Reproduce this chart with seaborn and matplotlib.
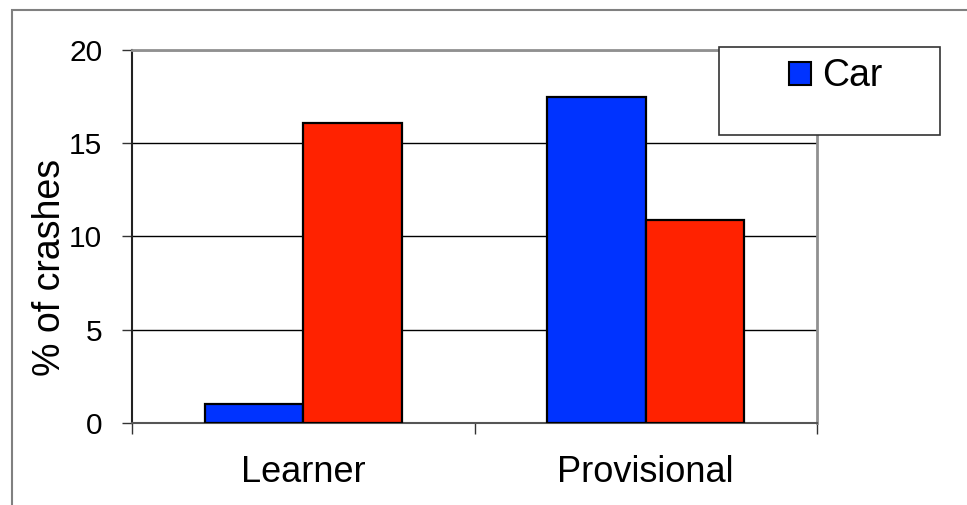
import matplotlib
matplotlib.use("Agg")
import matplotlib.pyplot as plt
from matplotlib.patches import Rectangle, Patch
import seaborn as sns
import pandas as pd

# Share of crashes by licence stage
stages = ["Learner", "Provisional"]
series = ["Car", "Motorcycle"]
car_pct = [1.0, 17.5]
motorcycle_pct = [16.1, 10.9]
y_ticks = [0, 5, 10, 15, 20]

colors = {"Car": "#0033FF", "Motorcycle": "#FF2200"}

df = pd.DataFrame({
    "stage": stages * 2,
    "series": [series[0]] * len(stages) + [series[1]] * len(stages),
    "pct": car_pct + motorcycle_pct,
})

sns.set_theme(style="white")
plt.rcParams["font.family"] = ["Liberation Sans", "DejaVu Sans"]
plt.rcParams["text.color"] = "black"
plt.rcParams["axes.labelcolor"] = "black"
plt.rcParams["xtick.color"] = "black"
plt.rcParams["ytick.color"] = "black"

W, H = 967, 505
fig = plt.figure(figsize=(W / 100, H / 100), dpi=100)
fig.patch.set_facecolor("white")

# outer slide frame
fig.patches.append(Rectangle((12 / W, -0.2), 1.2, 1.2 - 10 / H,
                             transform=fig.transFigure, fill=False,
                             edgecolor="#808080", linewidth=1.5, zorder=0))

ax = fig.add_axes([132 / W, 1 - 423 / H, (817 - 132) / W, (423 - 50) / H])

sns.barplot(data=df, x="stage", y="pct", hue="series", order=stages,
            hue_order=series, palette=colors, width=0.575, gap=0,
            edgecolor="black", linewidth=1.6, saturation=1, ax=ax,
            legend=False, zorder=3)

ax.set_xlim(-0.5, 1.5)
ax.set_ylim(0, 20)
ax.set_yticks(y_ticks)
ax.set_yticklabels([str(t) for t in y_ticks], fontsize=21.5)
ax.yaxis.grid(True, color="black", linewidth=1.0, zorder=0)
ax.set_axisbelow(True)

ax.set_xticks(range(len(stages)))
ax.set_xticklabels(stages, fontsize=26)
ax.set_xticks([-0.5, 0.5, 1.5], minor=True)
ax.tick_params(axis="x", which="major", length=0, pad=23)
ax.tick_params(axis="x", which="minor", bottom=True, length=8, width=1.0,
               color="#333333", direction="out")
ax.tick_params(axis="y", which="major", left=True, length=7.5, width=1.0,
               color="#333333", direction="out", pad=14)

ax.set_xlabel("")
ax.set_ylabel("% of crashes", fontsize=27)
ax.yaxis.set_label_coords(-0.094, 0.418)

for side in ["top", "right"]:
    ax.spines[side].set_visible(True)
    ax.spines[side].set_color("#909090")
    ax.spines[side].set_linewidth(2.0)
ax.spines["left"].set_color("#222222")
ax.spines["left"].set_linewidth(1.5)
ax.spines["bottom"].set_color("#555555")
ax.spines["bottom"].set_linewidth(1.5)

# legend frame and its single visible entry
lx0, lx1, ly0, ly1 = 719, 940, 47, 135
fig.patches.append(Rectangle((lx0 / W, 1 - ly1 / H), (lx1 - lx0) / W,
                             (ly1 - ly0) / H, transform=fig.transFigure,
                             facecolor="white", edgecolor="#333333",
                             linewidth=1.2, zorder=5))
handle = Patch(facecolor=colors["Car"], edgecolor="black", linewidth=1.5)
leg = fig.legend([handle], ["Car"], loc="upper center",
                 bbox_to_anchor=(836 / W, 1 - 36 / H), frameon=False,
                 fontsize=27, handlelength=0.58, handleheight=0.58,
                 handletextpad=0.3, borderpad=0.1)
leg.set_zorder(6)

fig.savefig("out.png", dpi=100, facecolor="white")
